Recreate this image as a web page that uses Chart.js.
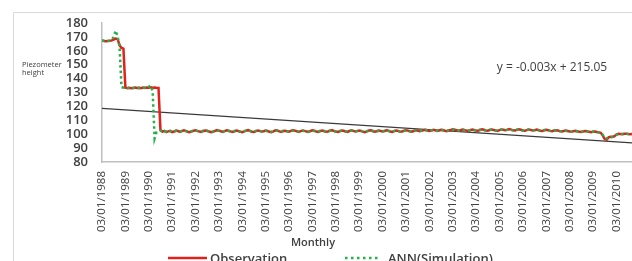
<!DOCTYPE html>
<html>
<head>
<meta charset="utf-8">
<script src="https://cdn.jsdelivr.net/npm/chart.js@4/dist/chart.umd.min.js"></script>
<style>
  html, body { margin: 0; padding: 0; background: #fff; }
  #wrap { width: 632px; height: 261px; overflow: hidden; }
</style>
</head>
<body>
<div id="wrap"><canvas id="chart" width="632" height="261"></canvas></div>
<script>
// monthly piezometer height, Jan 1988 .. Sep 2010
const firstYear = 1988;
const tickYears = [1988, 1989, 1990, 1991, 1992, 1993, 1994, 1995, 1996, 1997, 1998,
  1999, 2000, 2001, 2002, 2003, 2004, 2005, 2006, 2007, 2008, 2009, 2010];

const observation = [
  167.5, 167, 166.8, 167, 167.2, 167.5, 168, 168.8, 168.5, 164, 162, 161.5,
  133.5, 133.2, 133.4, 133, 133.3, 133.6, 133.2, 133.4, 133.1, 133.5, 133.3, 133.6,
  133.4, 133.8, 133.5, 133.6, 133.4, 133.3, 103, 101.8, 102.3, 101.6, 102, 102.4,
  101.5, 101.9, 102.6, 102.3, 101.7, 102.2, 102.8, 102.4, 101.8, 101.4, 102, 102.5,
  102.8, 102.4, 101.9, 101.6, 102.3, 102.7, 102.5, 101.9, 101.5, 101.8, 102.4, 102.9,
  102.6, 102.1, 101.7, 102.2, 102.8, 102.5, 102, 101.6, 102.1, 102.6, 102.3, 101.8,
  101.5, 102, 102.6, 102.9, 102.4, 101.8, 101.6, 102.2, 102.7, 102.4, 101.9, 102.1,
  102.6, 102.3, 101.7, 101.5, 102.1, 102.8, 102.6, 102, 101.7, 102.3, 102.5, 102.2,
  101.8, 102.4, 102.9, 102.6, 102.1, 101.7, 102.2, 102.7, 102.4, 101.9, 101.6, 102.3,
  102.8, 102.5, 101.9, 101.6, 102.2, 102.6, 102.3, 101.8, 102, 102.6, 102.9, 102.4,
  101.9, 101.6, 102.1, 102.7, 102.5, 102, 101.7, 102.3, 102.8, 102.4, 101.9, 102.2,
  102.7, 102.4, 101.8, 101.5, 102, 102.6, 102.8, 102.3, 101.8, 102.1, 102.6, 102.3,
  101.9, 102.3, 102.8, 102.5, 101.9, 101.6, 102.2, 102.7, 102.4, 101.8, 102, 102.5,
  102.9, 102.6, 102.1, 101.8, 102.3, 102.8, 102.6, 102.1, 102.4, 102.9, 103.2, 102.7,
  102.3, 102.6, 103.1, 102.8, 102.4, 102.7, 103.2, 103, 102.5, 102.2, 102.7, 103.1,
  103.6, 103.2, 102.8, 102.5, 102.9, 103.3, 103.1, 102.6, 102.4, 102.9, 103.4, 103.1,
  102.7, 102.5, 103, 103.5, 103.2, 102.7, 102.5, 103, 103.4, 103.1, 102.6, 102.4,
  102.9, 103.4, 103.2, 102.8, 103.1, 103.7, 103.3, 102.8, 102.6, 103.1, 103.5, 103.2,
  102.7, 102.5, 102.9, 103.4, 103.1, 102.6, 102.8, 103.3, 103, 102.5, 102.3, 102.8,
  103.2, 102.9, 102.4, 102.2, 102.6, 102.9, 102.6, 102.2, 101.9, 102.3, 102.6, 102.3,
  101.9, 101.8, 102.2, 102.4, 102.1, 101.7, 101.6, 102, 102.3, 102.1, 101.7, 101.5,
  101.8, 101.9, 101.6, 101.3, 101, 99, 96.5, 96, 97.8, 98.2, 98, 98.6,
  99.8, 100.3, 100.2, 100, 100.3, 100.4, 100.1, 100, 100.2
];

const simulation = [
  167.5, 167.2, 167, 167.1, 167.4, 168, 170, 174.5, 170.5, 163, 134, 133.4,
  133.2, 133, 133.4, 133.1, 133.3, 133.5, 133, 133.4, 133.2, 133.3, 133.5, 133.2,
  134, 135, 131, 97, 101.5, 102.2, 102.6, 101.6, 102.4, 101.5, 102.1, 102.3,
  101.7, 102.1, 102.4, 102.1, 101.8, 102.4, 102.6, 102.2, 101.7, 101.6, 102.2, 102.4,
  102.6, 102.2, 101.8, 101.8, 102.5, 102.5, 102.3, 101.8, 101.7, 102, 102.5, 102.7,
  102.4, 102, 101.9, 102.4, 102.6, 102.3, 101.9, 101.8, 102.3, 102.5, 102.1, 101.7,
  101.7, 102.2, 102.5, 102.7, 102.2, 101.7, 101.8, 102.4, 102.5, 102.2, 101.8, 102.3,
  102.5, 102.1, 101.6, 101.7, 102.3, 102.6, 102.4, 101.9, 101.9, 102.4, 102.3, 102,
  101.9, 102.6, 102.7, 102.4, 101.9, 101.8, 102.4, 102.5, 102.2, 101.8, 101.8, 102.5,
  102.6, 102.3, 101.8, 101.8, 102.4, 102.4, 102.1, 101.8, 102.2, 102.5, 102.7, 102.2,
  101.8, 101.8, 102.3, 102.5, 102.3, 101.9, 101.9, 102.5, 102.6, 102.2, 101.8, 102.4,
  102.5, 102.2, 101.7, 101.7, 102.2, 102.5, 102.6, 102.1, 101.9, 102.3, 102.4, 102.1,
  102, 102.5, 102.6, 102.3, 101.8, 101.8, 102.4, 102.5, 102.2, 101.8, 102.2, 102.4,
  102.7, 102.4, 102, 102, 102.5, 102.6, 102.4, 102.2, 102.6, 102.8, 103, 102.5,
  102.4, 102.8, 102.9, 102.6, 102.5, 102.9, 103, 102.8, 102.4, 102.4, 102.9, 103,
  103.4, 103, 102.7, 102.7, 103.1, 103.2, 102.9, 102.5, 102.6, 103.1, 103.2, 102.9,
  102.6, 102.7, 103.2, 103.3, 103, 102.6, 102.7, 103.2, 103.2, 102.9, 102.5, 102.6,
  103.1, 103.3, 103, 102.8, 103.3, 103.5, 103.1, 102.7, 102.8, 103.3, 103.3, 103,
  102.6, 102.7, 103.1, 103.2, 102.9, 102.6, 103, 103.1, 102.8, 102.4, 102.5, 103,
  103, 102.7, 102.3, 102.4, 102.8, 102.7, 102.4, 102.1, 102.1, 102.5, 102.4, 102.1,
  101.8, 102, 102.3, 102.2, 101.9, 101.6, 101.8, 102.2, 102.2, 101.9, 101.6, 101.7,
  101.9, 101.8, 101.5, 101.3, 101.1, 99.6, 97.3, 97, 97.6, 98, 98.2, 98.5,
  99.6, 100.1, 100.3, 100.1, 100.2, 100.3, 100.2, 100.1, 100.1
];

// linear trend from the chart: y = -0.003x + 215.05 (x = Excel date serial)
const trendSlope = -0.003;
const trendIntercept = 215.05;
const trendSerials = [32145, 40424]; // 03/01/1988 and 03/09/2010

const lastMonth = observation.length - 1;
const toPoints = arr => arr.map((v, i) => ({ x: i, y: v }));
const trendPoints = [
  { x: 0, y: trendIntercept + trendSlope * trendSerials[0] },
  { x: lastMonth, y: trendIntercept + trendSlope * trendSerials[1] }
];

const FONT = '"Open Sans", "DejaVu Sans", sans-serif';
const TEXT = '#404040';

// texts, legend and outer frame drawn by hand
const decorations = {
  id: 'decorations',
  afterDraw(chart) {
    const ctx = chart.ctx;
    ctx.save();
    ctx.strokeStyle = '#d9d9d9';
    ctx.lineWidth = 1;
    ctx.beginPath();
    ctx.moveTo(13.5, 261);
    ctx.lineTo(13.5, 12.5);
    ctx.lineTo(632, 12.5);
    ctx.stroke();

    ctx.fillStyle = TEXT;
    ctx.textBaseline = 'middle';
    ctx.textAlign = 'left';
    ctx.font = '7.5px ' + FONT;
    ctx.fillText('Piezometer', 22, 65);
    ctx.fillText('height', 22, 73);

    ctx.textAlign = 'center';
    ctx.font = '12px ' + FONT;
    ctx.fillText('y = -0.003x + 215.05', 552, 68);

    ctx.font = '600 11px ' + FONT;
    ctx.fillText('Monthly', 313, 243);

    // legend
    ctx.strokeStyle = '#e3211c';
    ctx.lineWidth = 2.5;
    ctx.beginPath();
    ctx.moveTo(168, 258);
    ctx.lineTo(207, 258);
    ctx.stroke();
    ctx.strokeStyle = '#21b24b';
    ctx.setLineDash([2.5, 3.5]);
    ctx.beginPath();
    ctx.moveTo(345, 258);
    ctx.lineTo(381, 258);
    ctx.stroke();
    ctx.setLineDash([]);
    ctx.textAlign = 'left';
    ctx.textBaseline = 'alphabetic';
    ctx.font = '600 13px ' + FONT;
    ctx.fillText('Observation', 210, 263);
    ctx.fillText('ANN(Simulation)', 388, 263);
    ctx.restore();
  }
};

new Chart(document.getElementById('chart'), {
  type: 'line',
  data: {
    datasets: [{
      label: 'ANN(Simulation)',
      data: toPoints(simulation),
      borderColor: '#21b24b',
      borderWidth: 2.5,
      borderDash: [2.5, 3],
      pointRadius: 0,
      tension: 0,
      order: 1
    }, {
      label: 'Observation',
      data: toPoints(observation),
      borderColor: '#e3211c',
      borderWidth: 2.5,
      pointRadius: 0,
      tension: 0,
      order: 2
    }, {
      label: 'Trend',
      data: trendPoints,
      borderColor: '#3a3a3a',
      borderWidth: 1.2,
      pointRadius: 0,
      order: 3
    }]
  },
  options: {
    responsive: false,
    animation: false,
    devicePixelRatio: 1,
    layout: { padding: { top: 23, left: 0, right: 0, bottom: 0 } },
    plugins: {
      legend: { display: false },
      tooltip: { enabled: false }
    },
    scales: {
      x: {
        type: 'linear',
        min: 0,
        max: lastMonth,
        grid: { display: false, drawTicks: false },
        border: { display: true, color: '#bfbfbf', width: 1.5 },
        ticks: {
          stepSize: 12,
          includeBounds: false,
          autoSkip: false,
          minRotation: 90,
          maxRotation: 90,
          padding: 9,
          color: TEXT,
          font: { family: FONT, size: 11.5 },
          callback: v => (v % 12 === 0 ? '03/01/' + tickYears[v / 12] : '')
        },
        afterFit: s => { s.height = 99; s.paddingLeft = 0; s.paddingRight = 0; }
      },
      y: {
        min: 80,
        max: 180,
        grid: { display: false, drawTicks: false },
        border: { display: true, color: '#bfbfbf', width: 1.5 },
        ticks: {
          stepSize: 10,
          autoSkip: false,
          padding: 14,
          color: TEXT,
          font: { family: FONT, size: 13, weight: '600' }
        },
        afterFit: s => { s.width = 102; s.paddingTop = 0; s.paddingBottom = 0; }
      }
    }
  },
  plugins: [decorations]
});
</script>
</body>
</html>
